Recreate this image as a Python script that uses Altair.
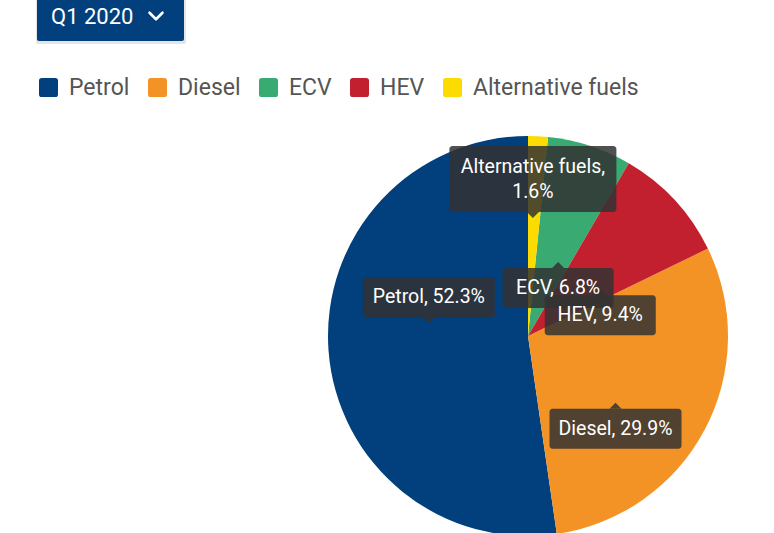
import altair as alt
import pandas as pd

# ---- data ----
period = "Q1 2020"
categories = ["Petrol", "Diesel", "ECV", "HEV", "Alternative fuels"]
shares = [52.3, 29.9, 6.8, 9.4, 1.6]
pie_order = [4, 3, 1, 2, 0]          # clockwise from 12 o'clock
colors = ["#013f7d", "#f39325", "#38aa72", "#c2202f", "#fcdc00"]

# ---- tooltip-label placement (annotation styling) ----
label_radius = {"Petrol": 0.50, "Diesel": 0.55, "ECV": 0.40, "HEV": 0.43, "Alternative fuels": 0.59}
label_nudge = {"Petrol": 11.5, "Diesel": 9.4, "ECV": 4.1, "HEV": 10.0, "Alternative fuels": -0.5}
label_side = {"Petrol": "above", "Diesel": "below", "ECV": "below", "HEV": "below", "Alternative fuels": "above"}

W, H = 774, 560
CX, CY, R = 528, 336, 200
BTN = "#013f7d"
BOX = "#333333"
FONT = "Roboto"
LH = 25

df = pd.DataFrame({
    "category": categories,
    "share": shares,
    "order": pie_order,
    "lr": [label_radius[c] for c in categories],
    "nudge": [label_nudge[c] for c in categories],
    "side": [label_side[c] for c in categories],
})

ROUNDED = ("M -1 -0.7 Q -1 -1 -0.7 -1 L 0.7 -1 Q 1 -1 1 -0.7 L 1 0.7 "
           "Q 1 1 0.7 1 L -0.7 1 Q -1 1 -1 0.7 Z")

pie = alt.Chart(df).mark_arc(radius=R, strokeWidth=0).encode(
    theta=alt.Theta("share:Q", stack=True),
    color=alt.Color(
        "category:N",
        scale=alt.Scale(domain=categories, range=colors),
        sort=categories,
        legend=alt.Legend(
            orient="none", legendX=37, legendY=76, direction="horizontal",
            title=None, symbolType=ROUNDED, symbolSize=361, symbolStrokeWidth=0,
            symbolOpacity=1, labelFont=FONT, labelFontSize=23, labelColor="#555555",
            labelOffset=9, columnPadding=16, padding=0, columns=5,
            gridAlign="none", labelLimit=400,
        ),
    ),
    order=alt.Order("order:Q", sort="ascending"),
    x=alt.value(CX),
    y=alt.value(CY),
)

lab = alt.Chart(df).transform_joinaggregate(
    total="sum(share)"
).transform_window(
    cum="sum(share)", sort=[alt.SortField("order", order="ascending")], frame=[None, 0]
).transform_calculate(
    ang="((datum.cum - datum.share/2)/datum.total)*2*PI + datum.nudge*PI/180",
    ax=f"{CX} + datum.lr*{R}*sin(datum.ang)",
    ay=f"{CY} - datum.lr*{R}*cos(datum.ang)",
    two="length(datum.category) > 12 ? 1 : 0",
    label="datum.category + ',' + (length(datum.category) > 12 ? '\\n' : ' ') + format(datum.share, '.1f') + '%'",
    w="(datum.two == 1 ? length(datum.category) + 1 : length(datum.category) + 7) * 7 + 41",
    h="(datum.two + 1) * 26 + 14",
    top="datum.side == 'above' ? datum.ay - 6 - datum.h : datum.ay + 6",
    bottom="datum.top + datum.h",
    left="datum.ax - datum.w/2",
    right="datum.ax + datum.w/2",
    ty=f"(datum.top + datum.bottom)/2 - datum.two*{LH}/2",
)

px = lambda f: alt.X(f, type="quantitative", scale=None, axis=None)
py = lambda f: alt.Y(f, type="quantitative", scale=None, axis=None)

ptr_down = lab.transform_filter("datum.side == 'above'").mark_point(
    shape="M -1 0 L 1 0 L 0 1 Z", filled=True, size=144, color=BOX, opacity=0.85, strokeWidth=0
).encode(x=px("ax"), y=py("bottom"))

ptr_up = lab.transform_filter("datum.side == 'below'").mark_point(
    shape="M -1 0 L 1 0 L 0 -1 Z", filled=True, size=144, color=BOX, opacity=0.85, strokeWidth=0
).encode(x=px("ax"), y=py("top"))

boxes = lab.mark_rect(color=BOX, opacity=0.85, cornerRadius=3).encode(
    x=px("left"), x2=alt.X2("right"), y=py("top"), y2=alt.Y2("bottom")
)

texts = lab.mark_text(
    font=FONT, fontSize=19.5, color="white", align="center", baseline="middle",
    lineBreak="\n", lineHeight=LH
).encode(x=px("ax"), y=py("ty"), text="label:N")

ui = pd.DataFrame({"label": [period]})
shadow = alt.Chart(ui).mark_rect(color="#000000", opacity=0.10, cornerRadius=2).encode(
    x=alt.value(36), x2=alt.value(186), y=alt.value(-5), y2=alt.value(44)
)
button = alt.Chart(ui).mark_rect(color=BTN, cornerRadius=2).encode(
    x=alt.value(37), x2=alt.value(184), y=alt.value(-5), y2=alt.value(41)
)
btn_text = alt.Chart(ui).mark_text(
    font=FONT, fontSize=22, color="white", align="left", baseline="alphabetic"
).encode(x=alt.value(51), y=alt.value(24), text="label:N")
chevron = alt.Chart(ui).mark_point(
    shape="M -1 -0.5 L 0 0.5 L 1 -0.5", filled=False, stroke="white",
    strokeWidth=2.6, size=169, opacity=1, strokeCap="round", strokeJoin="round"
).encode(x=alt.value(156), y=alt.value(16))

chart = alt.layer(
    pie, ptr_down, ptr_up, boxes, texts, shadow, button, btn_text, chevron
).properties(
    width=W, height=H, autosize=alt.AutoSizeParams(type="none"), padding=0,
    background="white"
).configure_view(stroke=None)

chart.save("out.html", embed_options={"renderer": "svg", "actions": False})
